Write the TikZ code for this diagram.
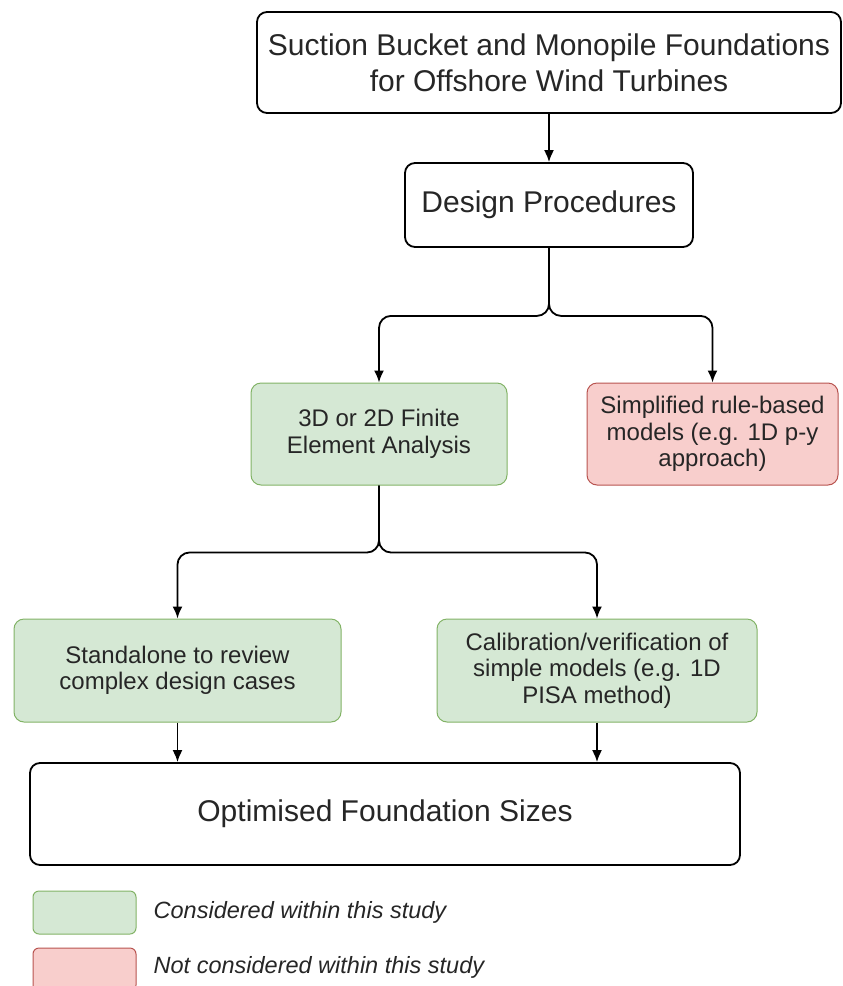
\documentclass[tikz,border=0pt]{standalone}
\usepackage{fontspec}
\setmainfont{Liberation Sans}
\usepackage{tikz}
\usetikzlibrary{arrows,arrows.meta,positioning,shapes}
\definecolor{studygreen}{HTML}{D5E8D4}
\definecolor{studygreenline}{HTML}{82B366}
\definecolor{otherred}{HTML}{F8CECC}
\definecolor{otherredline}{HTML}{B85450}
\tikzset{%
	mainbox/.style  = {draw, rectangle, rounded corners=10pt, line width=1.8pt, align=center, text=black!85, font=\fontsize{30}{36}\selectfont},
	inbox/.style    = {draw=studygreenline, fill=studygreen, rectangle, rounded corners=10pt, line width=1pt, align=center, text=black!85, font=\fontsize{24}{26.5}\selectfont},
	outbox/.style   = {inbox, draw=otherredline, fill=otherred},
	keytext/.style  = {inner sep=0pt, text=black!85, font=\fontsize{23.5}{26.5}\selectfont\itshape},
	arrow/.style    = {line width=1.8pt, -{Latex[length=12pt,width=10pt]}, rounded corners=12pt},
}

\begin{document}
\begin{tikzpicture}[x=1pt,y=-1pt]
	\useasboundingbox (0,0) rectangle (843,986);
	
	\node[mainbox, minimum width=584pt, minimum height=101pt] (wind) at (549,62.5) {Suction Bucket and Monopile Foundations\\for Offshore Wind Turbines};
	\node[mainbox, minimum width=288pt, minimum height=84pt] (design) at (549,205) {Design Procedures};
	
	\node[inbox, minimum width=256pt, minimum height=102pt] (fea) at (379,434) {3D or 2D Finite\\Element Analysis};
	\node[outbox, minimum width=251pt, minimum height=102pt] (rule) at (712.5,434) {Simplified rule-based\\models (e.g. 1D p-y\\approach)};
	
	\node[inbox, minimum width=327pt, minimum height=103pt] (alone) at (177.5,670.5) {Standalone to review\\complex design cases};
	\node[inbox, minimum width=320pt, minimum height=103pt] (calib) at (597,670.5) {Calibration/verification of\\simple models (e.g. 1D\\PISA method)};
	
	\node[mainbox, minimum width=710pt, minimum height=102pt] (sizes) at (385,814) {Optimised Foundation Sizes};
	
	\draw[arrow] (wind) -- (design);
	\draw[arrow] (design.south) -- ++(0,68) -| (fea.north);
	\draw[arrow] (design.south) -- ++(0,68) -| (rule.north);
	\draw[arrow] (fea.south) -- ++(0,67) -| (alone.north);
	\draw[arrow] (fea.south) -- ++(0,67) -| (calib.north);
	\draw[arrow] (alone.south) -- (alone.south |- sizes.north);
	\draw[arrow] (calib.south) -- (calib.south |- sizes.north);
	
	\node[inbox, rounded corners=6pt, minimum width=103pt, minimum height=43pt] (keyin) at (84.5,912.5) {};
	\node[outbox, rounded corners=6pt, minimum width=103pt, minimum height=43pt] (keyout) at (84.5,969.5) {};
	\node[keytext, right=17pt of keyin] (keyintext) {Considered within this study};
	\node[keytext, right=17pt of keyout, yshift=2pt] (keyouttext) {Not considered within this study};
\end{tikzpicture}
\end{document}
